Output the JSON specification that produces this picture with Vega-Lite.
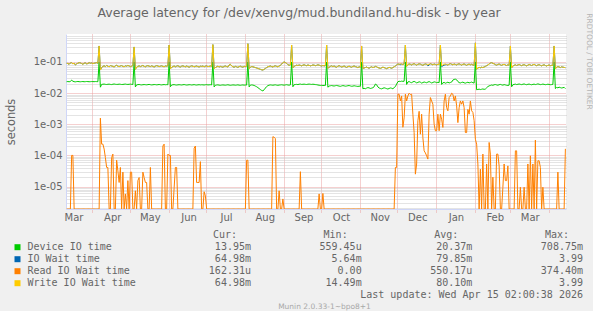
{
"$schema":"https://vega.github.io/schema/vega-lite/v6.json",
"background":"#F0F0F0",
"padding":{"left":5,"top":7,"right":0,"bottom":0},
"title":{"text":"Average latency for /dev/xenvg/mud.bundiland.hu-disk - by year","fontSize":12.5,"fontWeight":"normal","color":"#666666","anchor":"middle","offset":-7},
"config":{"font":"DejaVu Sans","view":{"stroke":null},"axis":{"labelColor":"#666666","titleColor":"#666666","titleFontWeight":"normal"}},
"resolve":{"scale":{"color":"shared"}},
"bounds":"flush",
"spacing":25.7,
"datasets":{
"legend":[
{"k":"g","name":"Device IO time","cur":"13.95m","min":"559.45u","avg":"20.37m","max":"708.75m"},
{"k":"b","name":"IO Wait time","cur":"64.98m","min":"5.64m","avg":"79.85m","max":"3.99\u00a0"},
{"k":"o","name":"Read IO Wait time","cur":"162.31u","min":"0.00\u00a0","avg":"550.17u","max":"374.40m"},
{"k":"y","name":"Write IO Wait time","cur":"64.98m","min":"14.49m","avg":"80.10m","max":"3.99\u00a0"}],
"heads":[{"stat":"cur","h":"Cur:"},{"stat":"min","h":"Min:"},{"stat":"avg","h":"Avg:"},{"stat":"max","h":"Max:"}],
"upd":[{"txt":"Last update: Wed Apr 15 02:00:38 2026"}],
"lat":[
{"t":"2025-03-11T12:00Z","g":0.0232,"b":0.091,"o":0,"y":0.091},
{"t":"2025-03-12T12:00Z","g":0.0235,"b":0.089,"o":0,"y":0.089},
{"t":"2025-03-13T12:00Z","g":0.0231,"b":0.084,"o":0,"y":0.084},
{"t":"2025-03-14T12:00Z","g":0.0236,"b":0.093,"o":0,"y":0.093},
{"t":"2025-03-15T12:00Z","g":0.0262,"b":0.095,"o":1e-4,"y":0.095},
{"t":"2025-03-16T12:00Z","g":0.0241,"b":0.087,"o":1e-4,"y":0.087},
{"t":"2025-03-17T12:00Z","g":0.0233,"b":0.091,"o":0,"y":0.091},
{"t":"2025-03-18T12:00Z","g":0.0230,"b":0.080,"o":0,"y":0.080},
{"t":"2025-03-19T12:00Z","g":0.0234,"b":0.087,"o":0,"y":0.087},
{"t":"2025-03-20T12:00Z","g":0.0236,"b":0.091,"o":0,"y":0.091},
{"t":"2025-03-21T12:00Z","g":0.0233,"b":0.095,"o":0,"y":0.095},
{"t":"2025-03-22T12:00Z","g":0.0231,"b":0.093,"o":0,"y":0.093},
{"t":"2025-03-23T12:00Z","g":0.0234,"b":0.089,"o":0,"y":0.089},
{"t":"2025-03-24T12:00Z","g":0.0235,"b":0.084,"o":0,"y":0.084},
{"t":"2025-03-25T12:00Z","g":0.0232,"b":0.091,"o":0,"y":0.091},
{"t":"2025-03-26T12:00Z","g":0.0233,"b":0.093,"o":0,"y":0.093},
{"t":"2025-03-27T12:00Z","g":0.0236,"b":0.087,"o":0,"y":0.087},
{"t":"2025-03-28T12:00Z","g":0.0234,"b":0.089,"o":0,"y":0.089},
{"t":"2025-03-29T12:00Z","g":0.0232,"b":0.095,"o":0,"y":0.095},
{"t":"2025-03-30T12:00Z","g":0.0233,"b":0.091,"o":0,"y":0.091},
{"t":"2025-03-31T12:00Z","g":0.0235,"b":0.093,"o":0,"y":0.093},
{"t":"2025-04-01T12:00Z","g":0.0234,"b":0.089,"o":0,"y":0.089},
{"t":"2025-04-02T12:00Z","g":0.0233,"b":0.091,"o":0,"y":0.091},
{"t":"2025-04-03T12:00Z","g":0.0235,"b":0.093,"o":0,"y":0.093},
{"t":"2025-04-04T12:00Z","g":0.0234,"b":0.095,"o":0,"y":0.095},
{"t":"2025-04-05T12:00Z","g":0.0233,"b":0.091,"o":0,"y":0.091},
{"t":"2025-04-06T12:00Z","g":0.1,"b":0.326,"o":0,"y":0.326},
{"t":"2025-04-07T12:00Z","g":0.0155,"b":0.055,"o":1.57e-3,"y":0.055},
{"t":"2025-04-08T12:00Z","g":0.0190,"b":0.066,"o":2.3e-4,"y":0.066},
{"t":"2025-04-09T12:00Z","g":0.0193,"b":0.072,"o":2.3e-4,"y":0.072},
{"t":"2025-04-10T12:00Z","g":0.0195,"b":0.075,"o":1.6e-4,"y":0.075},
{"t":"2025-04-11T12:00Z","g":0.0191,"b":0.071,"o":8.5e-5,"y":0.071},
{"t":"2025-04-12T12:00Z","g":0.0189,"b":0.077,"o":4.1e-5,"y":0.077},
{"t":"2025-04-13T12:00Z","g":0.0192,"b":0.073,"o":4.1e-5,"y":0.073},
{"t":"2025-04-14T12:00Z","g":0.0194,"b":0.070,"o":0,"y":0.070},
{"t":"2025-04-15T12:00Z","g":0.0190,"b":0.076,"o":0,"y":0.076},
{"t":"2025-04-16T12:00Z","g":0.0188,"b":0.074,"o":8.5e-5,"y":0.074},
{"t":"2025-04-17T12:00Z","g":0.0193,"b":0.072,"o":1.1e-4,"y":0.072},
{"t":"2025-04-18T12:00Z","g":0.0196,"b":0.069,"o":0,"y":0.069},
{"t":"2025-04-19T12:00Z","g":0.0192,"b":0.075,"o":0,"y":0.075},
{"t":"2025-04-20T12:00Z","g":0.0190,"b":0.078,"o":7e-5,"y":0.078},
{"t":"2025-04-21T12:00Z","g":0.0191,"b":0.073,"o":3.2e-5,"y":0.073},
{"t":"2025-04-22T12:00Z","g":0.0194,"b":0.071,"o":1.35e-5,"y":0.071},
{"t":"2025-04-23T12:00Z","g":0.0192,"b":0.074,"o":4.1e-5,"y":0.074},
{"t":"2025-04-24T12:00Z","g":0.0189,"b":0.076,"o":0,"y":0.076},
{"t":"2025-04-25T12:00Z","g":0.0190,"b":0.072,"o":2.9e-5,"y":0.072},
{"t":"2025-04-26T12:00Z","g":0.0193,"b":0.070,"o":0,"y":0.070},
{"t":"2025-04-27T12:00Z","g":0.0195,"b":0.075,"o":5.8e-6,"y":0.075},
{"t":"2025-04-28T12:00Z","g":0.0191,"b":0.073,"o":0,"y":0.073},
{"t":"2025-04-29T12:00Z","g":0.0190,"b":0.077,"o":1.55e-5,"y":0.077},
{"t":"2025-04-30T12:00Z","g":0.0192,"b":0.074,"o":0,"y":0.074},
{"t":"2025-05-01T12:00Z","g":0.0194,"b":0.071,"o":2.9e-5,"y":0.071},
{"t":"2025-05-02T12:00Z","g":0.0191,"b":0.073,"o":2.9e-5,"y":0.073},
{"t":"2025-05-03T12:00Z","g":0.0190,"b":0.076,"o":0,"y":0.076},
{"t":"2025-05-04T12:00Z","g":0.1,"b":0.303,"o":0,"y":0.303},
{"t":"2025-05-05T12:00Z","g":0.0158,"b":0.058,"o":7.3e-6,"y":0.058},
{"t":"2025-05-06T12:00Z","g":0.0184,"b":0.068,"o":0,"y":0.068},
{"t":"2025-05-07T12:00Z","g":0.0187,"b":0.072,"o":1.55e-5,"y":0.072},
{"t":"2025-05-08T12:00Z","g":0.0189,"b":0.075,"o":1.95e-5,"y":0.075},
{"t":"2025-05-09T12:00Z","g":0.0185,"b":0.071,"o":0,"y":0.071},
{"t":"2025-05-10T12:00Z","g":0.0183,"b":0.074,"o":0,"y":0.074},
{"t":"2025-05-11T12:00Z","g":0.0186,"b":0.077,"o":2.9e-5,"y":0.077},
{"t":"2025-05-12T12:00Z","g":0.0188,"b":0.072,"o":1.95e-5,"y":0.072},
{"t":"2025-05-13T12:00Z","g":0.0186,"b":0.070,"o":1.35e-5,"y":0.070},
{"t":"2025-05-14T12:00Z","g":0.0184,"b":0.074,"o":1.35e-5,"y":0.074},
{"t":"2025-05-15T12:00Z","g":0.0187,"b":0.076,"o":0,"y":0.076},
{"t":"2025-05-16T12:00Z","g":0.0190,"b":0.073,"o":0,"y":0.073},
{"t":"2025-05-17T12:00Z","g":0.0186,"b":0.071,"o":4.1e-5,"y":0.071},
{"t":"2025-05-18T12:00Z","g":0.0183,"b":0.075,"o":0,"y":0.075},
{"t":"2025-05-19T12:00Z","g":0.0185,"b":0.072,"o":0,"y":0.072},
{"t":"2025-05-20T12:00Z","g":0.0188,"b":0.069,"o":0,"y":0.069},
{"t":"2025-05-21T12:00Z","g":0.0187,"b":0.073,"o":0,"y":0.073},
{"t":"2025-05-22T12:00Z","g":0.0184,"b":0.076,"o":0,"y":0.076},
{"t":"2025-05-23T12:00Z","g":0.0186,"b":0.074,"o":0,"y":0.074},
{"t":"2025-05-24T12:00Z","g":0.0189,"b":0.071,"o":0,"y":0.071},
{"t":"2025-05-25T12:00Z","g":0.0185,"b":0.073,"o":0,"y":0.073},
{"t":"2025-05-26T12:00Z","g":0.0183,"b":0.075,"o":0,"y":0.075},
{"t":"2025-05-27T12:00Z","g":0.0186,"b":0.072,"o":2e-4,"y":0.072},
{"t":"2025-05-28T12:00Z","g":0.0188,"b":0.070,"o":2.3e-4,"y":0.070},
{"t":"2025-05-29T12:00Z","g":0.0185,"b":0.074,"o":0,"y":0.074},
{"t":"2025-05-30T12:00Z","g":0.0187,"b":0.073,"o":0,"y":0.073},
{"t":"2025-05-31T12:00Z","g":0.0186,"b":0.075,"o":1.1e-4,"y":0.075},
{"t":"2025-06-01T12:00Z","g":0.1,"b":0.35,"o":1e-4,"y":0.35},
{"t":"2025-06-02T12:00Z","g":0.016,"b":0.06,"o":1e-4,"y":0.06},
{"t":"2025-06-03T12:00Z","g":0.0182,"b":0.067,"o":0,"y":0.067},
{"t":"2025-06-04T12:00Z","g":0.0185,"b":0.071,"o":0,"y":0.071},
{"t":"2025-06-05T12:00Z","g":0.0187,"b":0.074,"o":9e-6,"y":0.074},
{"t":"2025-06-06T12:00Z","g":0.0183,"b":0.070,"o":4.1e-5,"y":0.070},
{"t":"2025-06-07T12:00Z","g":0.0181,"b":0.073,"o":4.1e-5,"y":0.073},
{"t":"2025-06-08T12:00Z","g":0.0184,"b":0.076,"o":0,"y":0.076},
{"t":"2025-06-09T12:00Z","g":0.0186,"b":0.071,"o":0,"y":0.071},
{"t":"2025-06-10T12:00Z","g":0.0184,"b":0.069,"o":0,"y":0.069},
{"t":"2025-06-11T12:00Z","g":0.0182,"b":0.073,"o":0,"y":0.073},
{"t":"2025-06-12T12:00Z","g":0.0185,"b":0.075,"o":0,"y":0.075},
{"t":"2025-06-13T12:00Z","g":0.0188,"b":0.072,"o":0,"y":0.072},
{"t":"2025-06-14T12:00Z","g":0.0184,"b":0.070,"o":0,"y":0.070},
{"t":"2025-06-15T12:00Z","g":0.0181,"b":0.074,"o":0,"y":0.074},
{"t":"2025-06-16T12:00Z","g":0.0183,"b":0.071,"o":0,"y":0.071},
{"t":"2025-06-17T12:00Z","g":0.0186,"b":0.068,"o":0,"y":0.068},
{"t":"2025-06-18T12:00Z","g":0.0185,"b":0.072,"o":0,"y":0.072},
{"t":"2025-06-19T12:00Z","g":0.0182,"b":0.075,"o":0,"y":0.075},
{"t":"2025-06-20T12:00Z","g":0.0184,"b":0.073,"o":0,"y":0.073},
{"t":"2025-06-21T12:00Z","g":0.0187,"b":0.070,"o":1.7e-4,"y":0.070},
{"t":"2025-06-22T12:00Z","g":0.0183,"b":0.072,"o":2e-4,"y":0.072},
{"t":"2025-06-23T12:00Z","g":0.0181,"b":0.074,"o":1.35e-5,"y":0.074},
{"t":"2025-06-24T12:00Z","g":0.0184,"b":0.071,"o":1.35e-5,"y":0.071},
{"t":"2025-06-25T12:00Z","g":0.0186,"b":0.069,"o":1.35e-5,"y":0.069},
{"t":"2025-06-26T12:00Z","g":0.0183,"b":0.073,"o":6.3e-5,"y":0.073},
{"t":"2025-06-27T12:00Z","g":0.0185,"b":0.072,"o":0,"y":0.072},
{"t":"2025-06-28T12:00Z","g":0.0184,"b":0.074,"o":0,"y":0.074},
{"t":"2025-06-29T12:00Z","g":0.0182,"b":0.070,"o":6.8e-6,"y":0.070},
{"t":"2025-06-30T12:00Z","g":0.0185,"b":0.073,"o":5e-6,"y":0.073},
{"t":"2025-07-01T12:00Z","g":0.0187,"b":0.075,"o":0,"y":0.075},
{"t":"2025-07-02T12:00Z","g":0.0183,"b":0.071,"o":0,"y":0.071},
{"t":"2025-07-03T12:00Z","g":0.0184,"b":0.072,"o":0,"y":0.072},
{"t":"2025-07-04T12:00Z","g":0.0186,"b":0.074,"o":0,"y":0.074},
{"t":"2025-07-05T12:00Z","g":0.0183,"b":0.072,"o":0,"y":0.072},
{"t":"2025-07-06T12:00Z","g":0.1,"b":0.36,"o":0,"y":0.36},
{"t":"2025-07-07T12:00Z","g":0.0158,"b":0.06,"o":0,"y":0.06},
{"t":"2025-07-08T12:00Z","g":0.0179,"b":0.066,"o":0,"y":0.066},
{"t":"2025-07-09T12:00Z","g":0.0182,"b":0.070,"o":0,"y":0.070},
{"t":"2025-07-10T12:00Z","g":0.0184,"b":0.073,"o":0,"y":0.073},
{"t":"2025-07-11T12:00Z","g":0.0180,"b":0.069,"o":0,"y":0.069},
{"t":"2025-07-12T12:00Z","g":0.0178,"b":0.072,"o":0,"y":0.072},
{"t":"2025-07-13T12:00Z","g":0.0181,"b":0.070,"o":0,"y":0.070},
{"t":"2025-07-14T12:00Z","g":0.0183,"b":0.068,"o":0,"y":0.068},
{"t":"2025-07-15T12:00Z","g":0.0181,"b":0.072,"o":0,"y":0.072},
{"t":"2025-07-16T12:00Z","g":0.0179,"b":0.074,"o":0,"y":0.074},
{"t":"2025-07-17T12:00Z","g":0.0182,"b":0.071,"o":0,"y":0.071},
{"t":"2025-07-18T12:00Z","g":0.0185,"b":0.069,"o":0,"y":0.069},
{"t":"2025-07-19T12:00Z","g":0.0181,"b":0.080,"o":0,"y":0.080},
{"t":"2025-07-20T12:00Z","g":0.0178,"b":0.084,"o":0,"y":0.084},
{"t":"2025-07-21T12:00Z","g":0.0180,"b":0.075,"o":0,"y":0.075},
{"t":"2025-07-22T12:00Z","g":0.0183,"b":0.070,"o":0,"y":0.070},
{"t":"2025-07-23T12:00Z","g":0.0182,"b":0.068,"o":0,"y":0.068},
{"t":"2025-07-24T12:00Z","g":0.0179,"b":0.072,"o":0,"y":0.072},
{"t":"2025-07-25T12:00Z","g":0.0181,"b":0.070,"o":0,"y":0.070},
{"t":"2025-07-26T12:00Z","g":0.0184,"b":0.067,"o":0,"y":0.067},
{"t":"2025-07-27T12:00Z","g":0.0180,"b":0.071,"o":0,"y":0.071},
{"t":"2025-07-28T12:00Z","g":0.0178,"b":0.073,"o":0,"y":0.073},
{"t":"2025-07-29T12:00Z","g":0.0181,"b":0.070,"o":0,"y":0.070},
{"t":"2025-07-30T12:00Z","g":0.0183,"b":0.068,"o":0,"y":0.068},
{"t":"2025-07-31T12:00Z","g":0.0180,"b":0.072,"o":0,"y":0.072},
{"t":"2025-08-01T12:00Z","g":0.0182,"b":0.071,"o":0,"y":0.071},
{"t":"2025-08-02T12:00Z","g":0.0181,"b":0.073,"o":7e-5,"y":0.073},
{"t":"2025-08-03T12:00Z","g":0.1,"b":0.385,"o":7e-5,"y":0.385},
{"t":"2025-08-04T12:00Z","g":0.0158,"b":0.06,"o":0,"y":0.06},
{"t":"2025-08-05T12:00Z","g":0.0180,"b":0.068,"o":0,"y":0.068},
{"t":"2025-08-06T12:00Z","g":0.0183,"b":0.071,"o":0,"y":0.071},
{"t":"2025-08-07T12:00Z","g":0.0181,"b":0.070,"o":0,"y":0.070},
{"t":"2025-08-08T12:00Z","g":0.0176,"b":0.068,"o":0,"y":0.068},
{"t":"2025-08-09T12:00Z","g":0.0168,"b":0.066,"o":0,"y":0.066},
{"t":"2025-08-10T12:00Z","g":0.0160,"b":0.064,"o":0,"y":0.064},
{"t":"2025-08-11T12:00Z","g":0.0150,"b":0.062,"o":0,"y":0.062},
{"t":"2025-08-12T12:00Z","g":0.0140,"b":0.060,"o":0,"y":0.060},
{"t":"2025-08-13T12:00Z","g":0.0130,"b":0.058,"o":0,"y":0.058},
{"t":"2025-08-14T12:00Z","g":0.0122,"b":0.056,"o":0,"y":0.056},
{"t":"2025-08-15T12:00Z","g":0.0118,"b":0.055,"o":0,"y":0.055},
{"t":"2025-08-16T12:00Z","g":0.0128,"b":0.058,"o":0,"y":0.058},
{"t":"2025-08-17T12:00Z","g":0.0145,"b":0.062,"o":0,"y":0.062},
{"t":"2025-08-18T12:00Z","g":0.0162,"b":0.066,"o":0,"y":0.066},
{"t":"2025-08-19T12:00Z","g":0.0174,"b":0.070,"o":0,"y":0.070},
{"t":"2025-08-20T12:00Z","g":0.0180,"b":0.072,"o":0,"y":0.072},
{"t":"2025-08-21T12:00Z","g":0.0183,"b":0.074,"o":0,"y":0.074},
{"t":"2025-08-22T12:00Z","g":0.0181,"b":0.071,"o":0,"y":0.071},
{"t":"2025-08-23T12:00Z","g":0.0179,"b":0.069,"o":4e-4,"y":0.069},
{"t":"2025-08-24T12:00Z","g":0.0182,"b":0.073,"o":3.8e-4,"y":0.073},
{"t":"2025-08-25T12:00Z","g":0.0184,"b":0.075,"o":3.5e-4,"y":0.075},
{"t":"2025-08-26T12:00Z","g":0.0180,"b":0.072,"o":0,"y":0.072},
{"t":"2025-08-27T12:00Z","g":0.0178,"b":0.070,"o":0,"y":0.070},
{"t":"2025-08-28T12:00Z","g":0.0181,"b":0.074,"o":7.3e-6,"y":0.074},
{"t":"2025-08-29T12:00Z","g":0.0183,"b":0.078,"o":0,"y":0.078},
{"t":"2025-08-30T12:00Z","g":0.0185,"b":0.085,"o":0,"y":0.085},
{"t":"2025-08-31T12:00Z","g":0.0182,"b":0.095,"o":4e-6,"y":0.095},
{"t":"2025-09-01T12:00Z","g":0.0180,"b":0.100,"o":0,"y":0.100},
{"t":"2025-09-02T12:00Z","g":0.0183,"b":0.096,"o":0,"y":0.096},
{"t":"2025-09-03T12:00Z","g":0.0186,"b":0.090,"o":0,"y":0.090},
{"t":"2025-09-04T12:00Z","g":0.0182,"b":0.082,"o":0,"y":0.082},
{"t":"2025-09-05T12:00Z","g":0.0180,"b":0.078,"o":0,"y":0.078},
{"t":"2025-09-06T12:00Z","g":0.0183,"b":0.080,"o":0,"y":0.080},
{"t":"2025-09-07T12:00Z","g":0.1,"b":0.35,"o":0,"y":0.35},
{"t":"2025-09-08T12:00Z","g":0.016,"b":0.065,"o":0,"y":0.065},
{"t":"2025-09-09T12:00Z","g":0.0186,"b":0.072,"o":0,"y":0.072},
{"t":"2025-09-10T12:00Z","g":0.0189,"b":0.076,"o":0,"y":0.076},
{"t":"2025-09-11T12:00Z","g":0.0191,"b":0.079,"o":0,"y":0.079},
{"t":"2025-09-12T12:00Z","g":0.0188,"b":0.077,"o":0,"y":0.077},
{"t":"2025-09-13T12:00Z","g":0.0193,"b":0.080,"o":0,"y":0.080},
{"t":"2025-09-14T12:00Z","g":0.0195,"b":0.078,"o":3e-5,"y":0.078},
{"t":"2025-09-15T12:00Z","g":0.0190,"b":0.075,"o":0,"y":0.075},
{"t":"2025-09-16T12:00Z","g":0.0192,"b":0.079,"o":0,"y":0.079},
{"t":"2025-09-17T12:00Z","g":0.0194,"b":0.081,"o":0,"y":0.081},
{"t":"2025-09-18T12:00Z","g":0.0191,"b":0.078,"o":0,"y":0.078},
{"t":"2025-09-19T12:00Z","g":0.0189,"b":0.076,"o":0,"y":0.076},
{"t":"2025-09-20T12:00Z","g":0.0193,"b":0.080,"o":0,"y":0.080},
{"t":"2025-09-21T12:00Z","g":0.0195,"b":0.078,"o":0,"y":0.078},
{"t":"2025-09-22T12:00Z","g":0.0192,"b":0.075,"o":0,"y":0.075},
{"t":"2025-09-23T12:00Z","g":0.0190,"b":0.077,"o":0,"y":0.077},
{"t":"2025-09-24T12:00Z","g":0.0193,"b":0.080,"o":0,"y":0.080},
{"t":"2025-09-25T12:00Z","g":0.0191,"b":0.079,"o":0,"y":0.079},
{"t":"2025-09-26T12:00Z","g":0.0188,"b":0.076,"o":0,"y":0.076},
{"t":"2025-09-27T12:00Z","g":0.0186,"b":0.078,"o":0,"y":0.078},
{"t":"2025-09-28T12:00Z","g":0.0182,"b":0.081,"o":0,"y":0.081},
{"t":"2025-09-29T12:00Z","g":0.0179,"b":0.079,"o":5.8e-6,"y":0.079},
{"t":"2025-09-30T12:00Z","g":0.0176,"b":0.076,"o":0,"y":0.076},
{"t":"2025-10-01T12:00Z","g":0.0178,"b":0.074,"o":0,"y":0.074},
{"t":"2025-10-02T12:00Z","g":0.0175,"b":0.077,"o":6e-6,"y":0.077},
{"t":"2025-10-03T12:00Z","g":0.0177,"b":0.075,"o":0,"y":0.075},
{"t":"2025-10-04T12:00Z","g":0.0176,"b":0.076,"o":0,"y":0.076},
{"t":"2025-10-05T12:00Z","g":0.1,"b":0.35,"o":0,"y":0.35},
{"t":"2025-10-06T12:00Z","g":0.0155,"b":0.062,"o":0,"y":0.062},
{"t":"2025-10-07T12:00Z","g":0.0168,"b":0.068,"o":0,"y":0.068},
{"t":"2025-10-08T12:00Z","g":0.0172,"b":0.072,"o":0,"y":0.072},
{"t":"2025-10-09T12:00Z","g":0.0175,"b":0.075,"o":0,"y":0.075},
{"t":"2025-10-10T12:00Z","g":0.0171,"b":0.071,"o":0,"y":0.071},
{"t":"2025-10-11T12:00Z","g":0.0169,"b":0.074,"o":0,"y":0.074},
{"t":"2025-10-12T12:00Z","g":0.0173,"b":0.070,"o":0,"y":0.070},
{"t":"2025-10-13T12:00Z","g":0.0176,"b":0.068,"o":0,"y":0.068},
{"t":"2025-10-14T12:00Z","g":0.0172,"b":0.073,"o":0,"y":0.073},
{"t":"2025-10-15T12:00Z","g":0.0168,"b":0.076,"o":0,"y":0.076},
{"t":"2025-10-16T12:00Z","g":0.0165,"b":0.072,"o":0,"y":0.072},
{"t":"2025-10-17T12:00Z","g":0.0170,"b":0.069,"o":0,"y":0.069},
{"t":"2025-10-18T12:00Z","g":0.0174,"b":0.071,"o":0,"y":0.071},
{"t":"2025-10-19T12:00Z","g":0.0171,"b":0.074,"o":0,"y":0.074},
{"t":"2025-10-20T12:00Z","g":0.0167,"b":0.070,"o":0,"y":0.070},
{"t":"2025-10-21T12:00Z","g":0.0169,"b":0.067,"o":0,"y":0.067},
{"t":"2025-10-22T12:00Z","g":0.0173,"b":0.071,"o":0,"y":0.071},
{"t":"2025-10-23T12:00Z","g":0.0175,"b":0.073,"o":0,"y":0.073},
{"t":"2025-10-24T12:00Z","g":0.0170,"b":0.070,"o":0,"y":0.070},
{"t":"2025-10-25T12:00Z","g":0.0166,"b":0.068,"o":0,"y":0.068},
{"t":"2025-10-26T12:00Z","g":0.0168,"b":0.072,"o":0,"y":0.072},
{"t":"2025-10-27T12:00Z","g":0.0172,"b":0.074,"o":0,"y":0.074},
{"t":"2025-10-28T12:00Z","g":0.0169,"b":0.071,"o":0,"y":0.071},
{"t":"2025-10-29T12:00Z","g":0.0166,"b":0.069,"o":0,"y":0.069},
{"t":"2025-10-30T12:00Z","g":0.0164,"b":0.066,"o":0,"y":0.066},
{"t":"2025-10-31T12:00Z","g":0.0167,"b":0.070,"o":0,"y":0.070},
{"t":"2025-11-01T12:00Z","g":0.0165,"b":0.068,"o":0,"y":0.068},
{"t":"2025-11-02T12:00Z","g":0.1,"b":0.326,"o":0,"y":0.326},
{"t":"2025-11-03T12:00Z","g":0.0138,"b":0.062,"o":0,"y":0.062},
{"t":"2025-11-04T12:00Z","g":0.0142,"b":0.064,"o":0,"y":0.064},
{"t":"2025-11-05T12:00Z","g":0.0138,"b":0.066,"o":0,"y":0.066},
{"t":"2025-11-06T12:00Z","g":0.0145,"b":0.069,"o":0,"y":0.069},
{"t":"2025-11-07T12:00Z","g":0.0150,"b":0.065,"o":0,"y":0.065},
{"t":"2025-11-08T12:00Z","g":0.0147,"b":0.063,"o":0,"y":0.063},
{"t":"2025-11-09T12:00Z","g":0.0141,"b":0.067,"o":0,"y":0.067},
{"t":"2025-11-10T12:00Z","g":0.0144,"b":0.070,"o":0,"y":0.070},
{"t":"2025-11-11T12:00Z","g":0.0149,"b":0.066,"o":0,"y":0.066},
{"t":"2025-11-12T12:00Z","g":0.0160,"b":0.068,"o":0,"y":0.068},
{"t":"2025-11-13T12:00Z","g":0.0195,"b":0.072,"o":0,"y":0.072},
{"t":"2025-11-14T12:00Z","g":0.0185,"b":0.070,"o":0,"y":0.070},
{"t":"2025-11-15T12:00Z","g":0.0158,"b":0.066,"o":0,"y":0.066},
{"t":"2025-11-16T12:00Z","g":0.0146,"b":0.064,"o":0,"y":0.064},
{"t":"2025-11-17T12:00Z","g":0.0140,"b":0.062,"o":0,"y":0.062},
{"t":"2025-11-18T12:00Z","g":0.0137,"b":0.065,"o":0,"y":0.065},
{"t":"2025-11-19T12:00Z","g":0.0143,"b":0.068,"o":0,"y":0.068},
{"t":"2025-11-20T12:00Z","g":0.0148,"b":0.066,"o":0,"y":0.066},
{"t":"2025-11-21T12:00Z","g":0.0144,"b":0.063,"o":0,"y":0.063},
{"t":"2025-11-22T12:00Z","g":0.0139,"b":0.061,"o":0,"y":0.061},
{"t":"2025-11-23T12:00Z","g":0.0135,"b":0.064,"o":0,"y":0.064},
{"t":"2025-11-24T12:00Z","g":0.0141,"b":0.067,"o":0,"y":0.067},
{"t":"2025-11-25T12:00Z","g":0.0146,"b":0.065,"o":0,"y":0.065},
{"t":"2025-11-26T12:00Z","g":0.0143,"b":0.063,"o":0,"y":0.063},
{"t":"2025-11-27T12:00Z","g":0.0138,"b":0.066,"o":0,"y":0.066},
{"t":"2025-11-28T12:00Z","g":0.0150,"b":0.070,"o":0,"y":0.070},
{"t":"2025-11-29T12:00Z","g":0.0162,"b":0.074,"o":4.1e-5,"y":0.074},
{"t":"2025-11-30T12:00Z","g":0.0195,"b":0.080,"o":4.1e-5,"y":0.080},
{"t":"2025-12-01T12:00Z","g":0.0232,"b":0.086,"o":9.2e-3,"y":0.086},
{"t":"2025-12-02T12:00Z","g":0.0240,"b":0.084,"o":9.2e-3,"y":0.084},
{"t":"2025-12-03T12:00Z","g":0.0236,"b":0.082,"o":5.6e-3,"y":0.088},
{"t":"2025-12-04T12:00Z","g":0.0242,"b":0.085,"o":8.1e-3,"y":0.085},
{"t":"2025-12-05T12:00Z","g":0.0238,"b":0.083,"o":8e-4,"y":0.083},
{"t":"2025-12-06T12:00Z","g":0.0241,"b":0.087,"o":1.6e-3,"y":0.087},
{"t":"2025-12-07T12:00Z","g":0.1,"b":0.35,"o":9.2e-3,"y":0.35},
{"t":"2025-12-08T12:00Z","g":0.019,"b":0.072,"o":5.6e-3,"y":0.072},
{"t":"2025-12-09T12:00Z","g":0.0228,"b":0.082,"o":8.1e-3,"y":0.082},
{"t":"2025-12-10T12:00Z","g":0.0235,"b":0.086,"o":9.9e-3,"y":0.086},
{"t":"2025-12-11T12:00Z","g":0.0222,"b":0.084,"o":9e-3,"y":0.084},
{"t":"2025-12-12T12:00Z","g":0.0216,"b":0.080,"o":9.2e-3,"y":0.080},
{"t":"2025-12-13T12:00Z","g":0.0229,"b":0.085,"o":2.1e-3,"y":0.085},
{"t":"2025-12-14T12:00Z","g":0.0238,"b":0.088,"o":5.4e-4,"y":0.088},
{"t":"2025-12-15T12:00Z","g":0.0226,"b":0.083,"o":2.5e-5,"y":0.083},
{"t":"2025-12-16T12:00Z","g":0.0213,"b":0.079,"o":5.3e-5,"y":0.079},
{"t":"2025-12-17T12:00Z","g":0.0220,"b":0.084,"o":1.3e-3,"y":0.084},
{"t":"2025-12-18T12:00Z","g":0.0231,"b":0.087,"o":2.6e-3,"y":0.087},
{"t":"2025-12-19T12:00Z","g":0.0224,"b":0.085,"o":4.8e-4,"y":0.085},
{"t":"2025-12-20T12:00Z","g":0.0210,"b":0.081,"o":2.1e-3,"y":0.081},
{"t":"2025-12-21T12:00Z","g":0.0218,"b":0.078,"o":3.7e-4,"y":0.078},
{"t":"2025-12-22T12:00Z","g":0.0228,"b":0.083,"o":1.4e-4,"y":0.083},
{"t":"2025-12-23T12:00Z","g":0.0221,"b":0.086,"o":1.2e-4,"y":0.086},
{"t":"2025-12-24T12:00Z","g":0.0215,"b":0.084,"o":9.7e-5,"y":0.084},
{"t":"2025-12-25T12:00Z","g":0.0226,"b":0.075,"o":7.6e-5,"y":0.080},
{"t":"2025-12-26T12:00Z","g":0.0234,"b":0.079,"o":2.1e-3,"y":0.085},
{"t":"2025-12-27T12:00Z","g":0.0223,"b":0.088,"o":7.2e-3,"y":0.088},
{"t":"2025-12-28T12:00Z","g":0.0212,"b":0.084,"o":5.6e-3,"y":0.084},
{"t":"2025-12-29T12:00Z","g":0.0219,"b":0.081,"o":4.4e-3,"y":0.081},
{"t":"2025-12-30T12:00Z","g":0.0230,"b":0.086,"o":1e-3,"y":0.086},
{"t":"2025-12-31T12:00Z","g":0.0225,"b":0.083,"o":6.2e-4,"y":0.083},
{"t":"2026-01-01T12:00Z","g":0.0216,"b":0.080,"o":6.2e-4,"y":0.080},
{"t":"2026-01-02T12:00Z","g":0.0222,"b":0.084,"o":2.1e-3,"y":0.084},
{"t":"2026-01-03T12:00Z","g":0.0218,"b":0.082,"o":6.2e-4,"y":0.082},
{"t":"2026-01-04T12:00Z","g":0.1,"b":0.35,"o":2.1e-3,"y":0.35},
{"t":"2026-01-05T12:00Z","g":0.019,"b":0.071,"o":1.45e-3,"y":0.075},
{"t":"2026-01-06T12:00Z","g":0.0214,"b":0.075,"o":7.9e-4,"y":0.080},
{"t":"2026-01-07T12:00Z","g":0.0220,"b":0.079,"o":5.6e-3,"y":0.084},
{"t":"2026-01-08T12:00Z","g":0.0208,"b":0.081,"o":9.2e-3,"y":0.086},
{"t":"2026-01-09T12:00Z","g":0.0216,"b":0.082,"o":3.4e-3,"y":0.082},
{"t":"2026-01-10T12:00Z","g":0.0224,"b":0.079,"o":2.7e-3,"y":0.079},
{"t":"2026-01-11T12:00Z","g":0.0212,"b":0.085,"o":7.2e-3,"y":0.085},
{"t":"2026-01-12T12:00Z","g":0.0219,"b":0.088,"o":8.1e-3,"y":0.088},
{"t":"2026-01-13T12:00Z","g":0.0226,"b":0.084,"o":9.9e-3,"y":0.084},
{"t":"2026-01-14T12:00Z","g":0.0262,"b":0.081,"o":9.2e-3,"y":0.081},
{"t":"2026-01-15T12:00Z","g":0.0275,"b":0.086,"o":5.6e-3,"y":0.086},
{"t":"2026-01-16T12:00Z","g":0.0280,"b":0.083,"o":8.1e-3,"y":0.083},
{"t":"2026-01-17T12:00Z","g":0.0268,"b":0.080,"o":3.9e-3,"y":0.080},
{"t":"2026-01-18T12:00Z","g":0.0235,"b":0.085,"o":1.13e-3,"y":0.085},
{"t":"2026-01-19T12:00Z","g":0.0218,"b":0.087,"o":3.4e-3,"y":0.087},
{"t":"2026-01-20T12:00Z","g":0.0212,"b":0.083,"o":5.6e-3,"y":0.083},
{"t":"2026-01-21T12:00Z","g":0.0220,"b":0.079,"o":4.4e-3,"y":0.079},
{"t":"2026-01-22T12:00Z","g":0.0225,"b":0.084,"o":5.6e-3,"y":0.084},
{"t":"2026-01-23T12:00Z","g":0.0214,"b":0.086,"o":3.4e-3,"y":0.086},
{"t":"2026-01-24T12:00Z","g":0.0209,"b":0.082,"o":5.4e-4,"y":0.082},
{"t":"2026-01-25T12:00Z","g":0.0217,"b":0.078,"o":5.4e-4,"y":0.078},
{"t":"2026-01-26T12:00Z","g":0.0223,"b":0.083,"o":3e-3,"y":0.083},
{"t":"2026-01-27T12:00Z","g":0.0213,"b":0.085,"o":2.1e-3,"y":0.085},
{"t":"2026-01-28T12:00Z","g":0.0219,"b":0.081,"o":5.6e-3,"y":0.081},
{"t":"2026-01-29T12:00Z","g":0.0226,"b":0.084,"o":2.7e-3,"y":0.084},
{"t":"2026-01-30T12:00Z","g":0.0216,"b":0.080,"o":2.4e-3,"y":0.080},
{"t":"2026-01-31T12:00Z","g":0.0210,"b":0.078,"o":1.3e-3,"y":0.078},
{"t":"2026-02-01T12:00Z","g":0.1,"b":0.41,"o":3.3e-4,"y":0.41},
{"t":"2026-02-02T12:00Z","g":0.0128,"b":0.058,"o":2.3e-4,"y":0.058},
{"t":"2026-02-03T12:00Z","g":0.0131,"b":0.064,"o":5.3e-5,"y":0.064},
{"t":"2026-02-04T12:00Z","g":0.0134,"b":0.067,"o":0,"y":0.067},
{"t":"2026-02-05T12:00Z","g":0.0130,"b":0.065,"o":3.6e-5,"y":0.065},
{"t":"2026-02-06T12:00Z","g":0.0133,"b":0.068,"o":0,"y":0.068},
{"t":"2026-02-07T12:00Z","g":0.0136,"b":0.066,"o":1.1e-4,"y":0.066},
{"t":"2026-02-08T12:00Z","g":0.0132,"b":0.069,"o":0,"y":0.069},
{"t":"2026-02-09T12:00Z","g":0.0135,"b":0.072,"o":0,"y":0.072},
{"t":"2026-02-10T12:00Z","g":0.0148,"b":0.076,"o":5.3e-5,"y":0.076},
{"t":"2026-02-11T12:00Z","g":0.0162,"b":0.080,"o":0,"y":0.080},
{"t":"2026-02-12T12:00Z","g":0.0171,"b":0.086,"o":2.6e-4,"y":0.086},
{"t":"2026-02-13T12:00Z","g":0.0176,"b":0.092,"o":1.1e-4,"y":0.092},
{"t":"2026-02-14T12:00Z","g":0.0182,"b":0.095,"o":0,"y":0.095},
{"t":"2026-02-15T12:00Z","g":0.0178,"b":0.090,"o":2e-5,"y":0.090},
{"t":"2026-02-16T12:00Z","g":0.0185,"b":0.087,"o":0,"y":0.087},
{"t":"2026-02-17T12:00Z","g":0.0188,"b":0.082,"o":0,"y":0.082},
{"t":"2026-02-18T12:00Z","g":0.0183,"b":0.079,"o":1.1e-4,"y":0.079},
{"t":"2026-02-19T12:00Z","g":0.0179,"b":0.083,"o":1.1e-4,"y":0.083},
{"t":"2026-02-20T12:00Z","g":0.0186,"b":0.086,"o":4.6e-5,"y":0.086},
{"t":"2026-02-21T12:00Z","g":0.0190,"b":0.081,"o":0,"y":0.081},
{"t":"2026-02-22T12:00Z","g":0.0184,"b":0.078,"o":0,"y":0.078},
{"t":"2026-02-23T12:00Z","g":0.0180,"b":0.082,"o":9.5e-6,"y":0.082},
{"t":"2026-02-24T12:00Z","g":0.0187,"b":0.084,"o":5.3e-5,"y":0.084},
{"t":"2026-02-25T12:00Z","g":0.0183,"b":0.080,"o":1.55e-5,"y":0.080},
{"t":"2026-02-26T12:00Z","g":0.0178,"b":0.077,"o":1.55e-5,"y":0.077},
{"t":"2026-02-27T12:00Z","g":0.0176,"b":0.081,"o":4.6e-5,"y":0.081},
{"t":"2026-02-28T12:00Z","g":0.0180,"b":0.079,"o":0,"y":0.079},
{"t":"2026-03-01T12:00Z","g":0.1,"b":0.326,"o":0,"y":0.326},
{"t":"2026-03-02T12:00Z","g":0.016,"b":0.065,"o":0,"y":0.065},
{"t":"2026-03-03T12:00Z","g":0.0185,"b":0.074,"o":0,"y":0.074},
{"t":"2026-03-04T12:00Z","g":0.0190,"b":0.078,"o":0,"y":0.078},
{"t":"2026-03-05T12:00Z","g":0.0194,"b":0.081,"o":1.4e-4,"y":0.081},
{"t":"2026-03-06T12:00Z","g":0.0188,"b":0.077,"o":1.4e-4,"y":0.077},
{"t":"2026-03-07T12:00Z","g":0.0192,"b":0.080,"o":0,"y":0.080},
{"t":"2026-03-08T12:00Z","g":0.0196,"b":0.083,"o":0,"y":0.083},
{"t":"2026-03-09T12:00Z","g":0.0191,"b":0.079,"o":9.5e-6,"y":0.079},
{"t":"2026-03-10T12:00Z","g":0.0187,"b":0.076,"o":0,"y":0.076},
{"t":"2026-03-11T12:00Z","g":0.0193,"b":0.080,"o":0,"y":0.080},
{"t":"2026-03-12T12:00Z","g":0.0197,"b":0.082,"o":9.5e-6,"y":0.082},
{"t":"2026-03-13T12:00Z","g":0.0190,"b":0.078,"o":0,"y":0.078},
{"t":"2026-03-14T12:00Z","g":0.0186,"b":0.075,"o":0,"y":0.075},
{"t":"2026-03-15T12:00Z","g":0.0192,"b":0.079,"o":5.3e-5,"y":0.079},
{"t":"2026-03-16T12:00Z","g":0.0195,"b":0.083,"o":0,"y":0.083},
{"t":"2026-03-17T12:00Z","g":0.0189,"b":0.080,"o":9.7e-5,"y":0.080},
{"t":"2026-03-18T12:00Z","g":0.0185,"b":0.077,"o":0,"y":0.077},
{"t":"2026-03-19T12:00Z","g":0.0191,"b":0.081,"o":5.3e-5,"y":0.081},
{"t":"2026-03-20T12:00Z","g":0.0194,"b":0.084,"o":0,"y":0.084},
{"t":"2026-03-21T12:00Z","g":0.0188,"b":0.079,"o":3.1e-4,"y":0.079},
{"t":"2026-03-22T12:00Z","g":0.0192,"b":0.076,"o":0,"y":0.076},
{"t":"2026-03-23T12:00Z","g":0.0198,"b":0.080,"o":6.7e-5,"y":0.080},
{"t":"2026-03-24T12:00Z","g":0.0193,"b":0.082,"o":6.7e-5,"y":0.082},
{"t":"2026-03-25T12:00Z","g":0.0187,"b":0.078,"o":4.1e-5,"y":0.078},
{"t":"2026-03-26T12:00Z","g":0.0190,"b":0.075,"o":0,"y":0.075},
{"t":"2026-03-27T12:00Z","g":0.0195,"b":0.079,"o":9.5e-6,"y":0.079},
{"t":"2026-03-28T12:00Z","g":0.0191,"b":0.081,"o":0,"y":0.081},
{"t":"2026-03-29T12:00Z","g":0.0186,"b":0.077,"o":0,"y":0.077},
{"t":"2026-03-30T12:00Z","g":0.0189,"b":0.074,"o":0,"y":0.074},
{"t":"2026-03-31T12:00Z","g":0.0193,"b":0.078,"o":0,"y":0.078},
{"t":"2026-04-01T12:00Z","g":0.0190,"b":0.080,"o":0,"y":0.080},
{"t":"2026-04-02T12:00Z","g":0.0186,"b":0.076,"o":0,"y":0.076},
{"t":"2026-04-03T12:00Z","g":0.0188,"b":0.078,"o":0,"y":0.078},
{"t":"2026-04-04T12:00Z","g":0.0191,"b":0.077,"o":0,"y":0.077},
{"t":"2026-04-05T12:00Z","g":0.1,"b":0.326,"o":0,"y":0.326},
{"t":"2026-04-06T12:00Z","g":0.014,"b":0.06,"o":0,"y":0.06},
{"t":"2026-04-07T12:00Z","g":0.0152,"b":0.068,"o":0,"y":0.068},
{"t":"2026-04-08T12:00Z","g":0.0148,"b":0.071,"o":2.9e-5,"y":0.071},
{"t":"2026-04-09T12:00Z","g":0.0155,"b":0.069,"o":0,"y":0.069},
{"t":"2026-04-10T12:00Z","g":0.0150,"b":0.066,"o":0,"y":0.066},
{"t":"2026-04-11T12:00Z","g":0.0146,"b":0.070,"o":0,"y":0.070},
{"t":"2026-04-12T12:00Z","g":0.0149,"b":0.068,"o":0,"y":0.068},
{"t":"2026-04-13T12:00Z","g":0.0153,"b":0.067,"o":0,"y":0.067},
{"t":"2026-04-14T12:00Z","g":0.01395,"b":0.06498,"o":1.6231e-4,"y":0.06498}
]},
"vconcat":[
{
"width":500,"height":175,
"view":{"fill":"#FFFFFF","stroke":null},
"data":{"name":"lat"},
"layer":[
{"mark":{"type":"line","strokeOpacity":0},
 "encoding":{
  "x":{"field":"t","type":"temporal","scale":{"type":"utc","domain":[{"year":2025,"month":3,"date":11,"utc":true},{"year":2026,"month":4,"date":15,"utc":true}]},
   "axis":{"orient":"bottom","title":null,"labels":false,"grid":true,"gridColor":"#EBA0A0","gridDash":[1,1],"gridWidth":1,"ticks":true,"tickColor":"#EBA0A0","tickSize":3,"tickDash":[1,1],"domain":true,"domainColor":"#CFD6F8","domainWidth":1,
    "values":[{"year":2025,"month":4,"date":1,"utc":true},{"year":2025,"month":5,"date":1,"utc":true},{"year":2025,"month":6,"date":1,"utc":true},{"year":2025,"month":7,"date":1,"utc":true},{"year":2025,"month":8,"date":1,"utc":true},{"year":2025,"month":9,"date":1,"utc":true},{"year":2025,"month":10,"date":1,"utc":true},{"year":2025,"month":11,"date":1,"utc":true},{"year":2025,"month":12,"date":1,"utc":true},{"year":2026,"month":1,"date":1,"utc":true},{"year":2026,"month":2,"date":1,"utc":true},{"year":2026,"month":3,"date":1,"utc":true},{"year":2026,"month":4,"date":1,"utc":true}]}},
  "y":{"field":"g","type":"quantitative","scale":{"type":"log","domain":[0.0000019,0.79],"clamp":true,"nice":false},
   "axis":{"orient":"right","labels":false,"ticks":false,"domain":false,"grid":true,"gridColor":"#C8C8C8","gridDash":[1,1],"gridWidth":1,
    "values":[2e-6,3e-6,4e-6,5e-6,6e-6,7e-6,8e-6,9e-6,2e-5,3e-5,4e-5,5e-5,6e-5,7e-5,8e-5,9e-5,2e-4,3e-4,4e-4,5e-4,6e-4,7e-4,8e-4,9e-4,2e-3,3e-3,4e-3,5e-3,6e-3,7e-3,8e-3,9e-3,0.02,0.03,0.04,0.05,0.06,0.07,0.08,0.09,0.2,0.3,0.4,0.5,0.6,0.7],
    "title":"RRDTOOL / TOBI OETIKER","titleFontSize":7.5,"titleColor":"#B4B4B4","titleAngle":90,"titleX":22.5,"titleY":27,"titleAlign":"center","titleBaseline":"middle"}}
 }},
{"transform":[{"fold":["g","b","o","y"],"as":["k","v"]},{"lookup":"k","from":{"data":{"name":"legend"},"key":"k","fields":["name"]}}],
 "mark":{"type":"line","strokeWidth":1,"clip":true,"invalid":"show"},
 "encoding":{
  "x":{"field":"t","type":"temporal",
   "axis":{"orient":"bottom","title":null,"grid":false,"ticks":false,"tickSize":0,"domain":false,"labelExpr":"utcFormat(datum.value, '%b')","labelFontSize":10,"labelPadding":3,"labelFlush":false,"labelOverlap":false,"labelBound":false,
    "values":[{"year":2025,"month":3,"date":17,"utc":true},{"year":2025,"month":4,"date":17,"utc":true},{"year":2025,"month":5,"date":17,"utc":true},{"year":2025,"month":6,"date":17,"utc":true},{"year":2025,"month":7,"date":17,"utc":true},{"year":2025,"month":8,"date":17,"utc":true},{"year":2025,"month":9,"date":17,"utc":true},{"year":2025,"month":10,"date":17,"utc":true},{"year":2025,"month":11,"date":17,"utc":true},{"year":2025,"month":12,"date":17,"utc":true},{"year":2026,"month":1,"date":17,"utc":true},{"year":2026,"month":2,"date":17,"utc":true},{"year":2026,"month":3,"date":17,"utc":true}]}},
  "y":{"field":"v","type":"quantitative",
   "axis":{"orient":"left","values":[1e-5,1e-4,1e-3,0.01,0.1],"labelExpr":"'1e-0' + round(-log(datum.value)/LN10)","grid":true,"gridColor":"#EBA0A0","gridDash":[1,1],"gridWidth":1,"ticks":false,"tickSize":0,"domain":true,"domainColor":"#CFD6F8","domainWidth":1,"labelPadding":4,"labelFontSize":10,"labelOverlap":false,"title":"seconds","titleFontSize":11.4,"titlePadding":16.5}},
  "color":{"field":"name","type":"nominal","scale":{"domain":["Device IO time","IO Wait time","Read IO Wait time","Write IO Wait time"],"range":["#00CC00","#0066B3","#FF8000","#FFCC00"]},"legend":null}
 }}
],
"resolve":{"axis":{"x":"independent","y":"independent"}}
},
{
"width":517,"height":60,
"title":{"text":"Munin 2.0.33-1~bpo8+1","orient":"bottom","anchor":"middle","fontSize":7.5,"fontWeight":"normal","color":"#A8A8A8","offset":3},
"layer":[
{"data":{"name":"legend"},
 "transform":[{"fold":["cur","min","avg","max"],"as":["stat","val"]}],
 "mark":{"type":"text","align":"right","baseline":"middle","font":"DejaVu Sans Mono","fontSize":10,"color":"#666666"},
 "encoding":{
  "x":{"field":"stat","type":"nominal","scale":{"type":"point","domain":["cur","min","avg","max"],"padding":0.8358,"align":1},"axis":null},
  "y":{"field":"name","type":"nominal","scale":{"type":"point","domain":["hdr","Device IO time","IO Wait time","Read IO Wait time","Write IO Wait time","upd"],"padding":0},
   "axis":{"orient":"left","title":null,"values":["Device IO time","IO Wait time","Read IO Wait time","Write IO Wait time"],"domain":false,"grid":false,"ticks":true,"tickSize":6,"tickWidth":6,"tickOpacity":1,"offset":46,"labelAlign":"left","labelBaseline":"middle","labelPadding":-13,"labelFont":"DejaVu Sans Mono","labelFontSize":10,"labelColor":"#666666","labelOverlap":false,
    "tickColor":{"condition":[{"test":"datum.value === 'Device IO time'","value":"#00CC00"},{"test":"datum.value === 'IO Wait time'","value":"#0066B3"},{"test":"datum.value === 'Read IO Wait time'","value":"#FF8000"}],"value":"#FFCC00"}}},
  "text":{"field":"val"}
 }},
{"data":{"name":"heads"},
 "mark":{"type":"text","align":"right","baseline":"middle","font":"DejaVu Sans Mono","fontSize":10,"color":"#666666","dx":-14},
 "encoding":{"x":{"field":"stat","type":"nominal"},"y":{"datum":"hdr","type":"nominal"},"text":{"field":"h"}}},
{"data":{"name":"upd"},
 "mark":{"type":"text","align":"right","baseline":"middle","font":"DejaVu Sans Mono","fontSize":10,"color":"#666666"},
 "encoding":{"x":{"datum":"max","type":"nominal"},"y":{"datum":"upd","type":"nominal"},"text":{"field":"txt"}}}
]
}
]
}
